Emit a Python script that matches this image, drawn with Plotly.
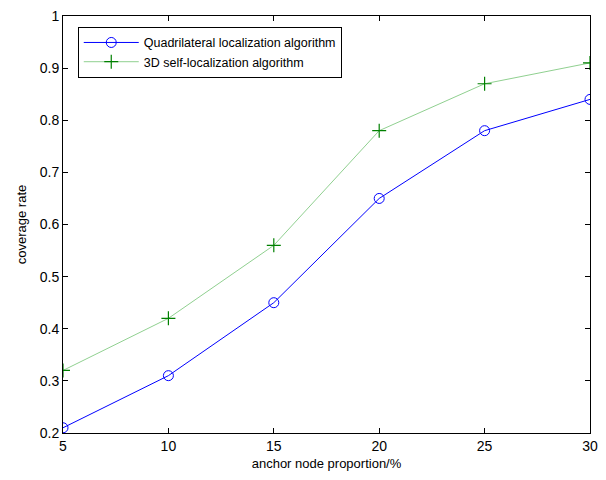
import plotly.graph_objects as go

x_vals = [5, 10, 15, 20, 25, 30]
quad_vals = [0.21, 0.31, 0.45, 0.65, 0.78, 0.84]
self3d_vals = [0.32, 0.42, 0.56, 0.78, 0.87, 0.91]
x_ticks = [5, 10, 15, 20, 25, 30]
y_ticks = [0.2, 0.3, 0.4, 0.5, 0.6, 0.7, 0.8, 0.9, 1.0]
y_tick_text = ["0.2", "0.3", "0.4", "0.5", "0.6", "0.7", "0.8", "0.9", "1"]

fig = go.Figure()
fig.add_trace(go.Scatter(
    x=x_vals, y=quad_vals, mode="lines+markers",
    name="Quadrilateral localization algorithm",
    line=dict(color="#0000ff", width=1),
    marker=dict(symbol="circle-open", size=10, color="#0000ff", line=dict(width=1)),
))
fig.add_trace(go.Scatter(
    x=x_vals, y=self3d_vals, mode="lines+markers",
    name="3D self-localization algorithm",
    line=dict(color="#90d090", width=1),
    marker=dict(symbol="cross-thin-open", size=10, color="#008000", line=dict(width=1.2, color="#008000")),
))

axis_common = dict(
    showgrid=False, zeroline=False, showline=True, linecolor="black", linewidth=1,
    mirror="ticks", ticks="inside", ticklen=5, tickcolor="black",
    tickfont=dict(family="Liberation Sans, Arial", size=14, color="black"),
)

fig.update_layout(
    width=606, height=480,
    margin=dict(l=63, r=8, t=14, b=47),
    plot_bgcolor="white", paper_bgcolor="white",
    font=dict(family="Liberation Sans, Arial", size=13, color="black"),
    xaxis=dict(range=[5, 30], tickvals=x_ticks, title=dict(text="anchor node proportion/%", standoff=6,
               font=dict(size=13)), **axis_common),
    yaxis=dict(range=[0.2, 1.0], tickvals=y_ticks, ticktext=y_tick_text,
               title=dict(text="coverage rate", standoff=10, font=dict(size=13)), **axis_common),
    legend=dict(x=0.028, y=0.974, xanchor="left", yanchor="top",
                bordercolor="black", borderwidth=1, bgcolor="white",
                font=dict(size=12.5), tracegroupgap=0, itemwidth=55),
    showlegend=True,
)

fig.write_html("out.html")
